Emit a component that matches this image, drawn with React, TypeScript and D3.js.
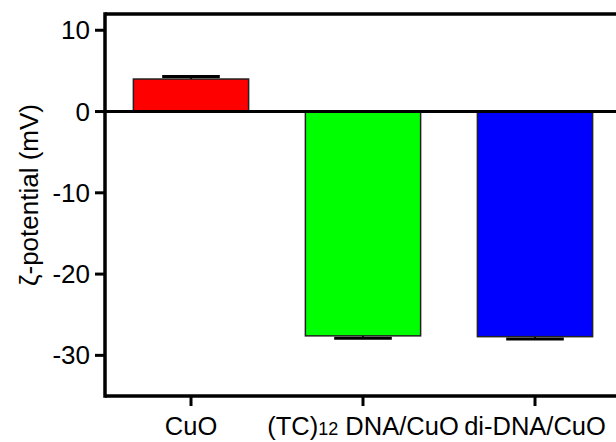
import React from "react";
import * as d3 from "d3";

// Zeta potential measurements (mean ± error)
const categories = ["CuO", "(TC)12 DNA/CuO", "di-DNA/CuO"];
const means = [4.0, -27.6, -27.7];
const errors = [0.3, 0.3, 0.3];
const barColors = ["#ff0000", "#00ff00", "#0000ff"];
const yTicks = [10, 0, -10, -20, -30];

const W = 616;
const H = 442;
const left = 105;
const right = 621;
const top = 14;
const bottom = 396;
const FONT = "'Liberation Sans', Arial, sans-serif";

export default function App() {
  const x = d3
    .scaleBand<string>()
    .domain(categories)
    .range([left, right])
    .paddingInner(0.33)
    .paddingOuter(0.165);
  const y = d3.scaleLinear().domain([-35, 12]).range([bottom, top]);
  const bw = x.bandwidth();

  const renderLabel = (c: string) => {
    if (c.startsWith("(TC)12")) {
      return (
        <>
          <tspan>(TC)</tspan>
          <tspan fontSize={18}>12</tspan>
          <tspan> DNA/CuO</tspan>
        </>
      );
    }
    return c;
  };

  return (
    <svg
      width={W}
      height={H}
      style={{ position: "absolute", left: 0, top: 0, background: "#fff" }}
      fontFamily={FONT}
    >
      {/* bars with error bars pointing away from zero */}
      {categories.map((c, i) => {
        const v = means[i];
        const e = errors[i];
        const x0 = x(c)!;
        const cx = x0 + bw / 2;
        const yv = y(v);
        const ye = y(v + Math.sign(v) * e);
        return (
          <g key={c}>
            <line x1={cx} x2={cx} y1={yv} y2={ye} stroke="#000" strokeWidth={2} />
            <line
              x1={cx - bw / 4}
              x2={cx + bw / 4}
              y1={ye}
              y2={ye}
              stroke="#000"
              strokeWidth={3}
            />
            <rect
              x={x0}
              y={Math.min(y(0), yv)}
              width={bw}
              height={Math.abs(yv - y(0))}
              fill={barColors[i]}
              stroke="#222"
              strokeWidth={1.5}
            />
          </g>
        );
      })}

      {/* zero line */}
      <line x1={left} x2={W} y1={y(0)} y2={y(0)} stroke="#000" strokeWidth={3} />

      {/* frame: top edge, left and bottom axes */}
      <line x1={left} x2={W + 5} y1={top} y2={top} stroke="#000" strokeWidth={3.5} />
      <line x1={left} x2={left} y1={top - 1.75} y2={bottom + 1.75} stroke="#000" strokeWidth={3.5} />
      <line x1={left} x2={W + 5} y1={bottom} y2={bottom} stroke="#000" strokeWidth={3.5} />

      {/* y ticks */}
      {yTicks.map((t) => (
        <g key={t}>
          <line x1={left - 10} x2={left} y1={y(t)} y2={y(t)} stroke="#000" strokeWidth={3} />
          <text
            x={left - 15}
            y={y(t)}
            textAnchor="end"
            dominantBaseline="central"
            fontSize={26}
            fill="#000"
          >
            {t}
          </text>
        </g>
      ))}

      {/* x ticks */}
      {categories.map((c) => {
        const cx = x(c)! + bw / 2;
        return (
          <g key={c}>
            <line x1={cx} x2={cx} y1={bottom} y2={bottom + 10} stroke="#000" strokeWidth={3} />
            <text x={cx} y={435} textAnchor="middle" fontSize={25.5} fill="#000">
              {renderLabel(c)}
            </text>
          </g>
        );
      })}

      {/* y axis title */}
      <text
        transform={`translate(29, 195) rotate(-90)`}
        textAnchor="middle"
        dominantBaseline="central"
        fontSize={26}
        fill="#000"
      >
        ζ-potential (mV)
      </text>
    </svg>
  );
}
